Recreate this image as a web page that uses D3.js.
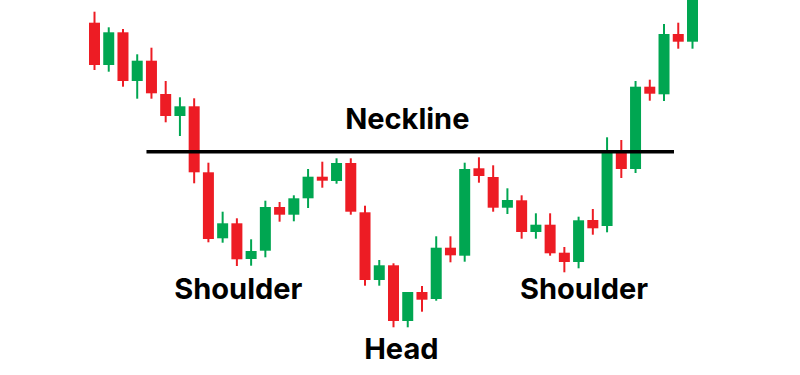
<!DOCTYPE html>
<html>
<head>
<meta charset="utf-8">
<script src="https://cdn.jsdelivr.net/npm/d3@7"></script>
<style>
  html, body { margin: 0; padding: 0; background: #fff; }
  svg { display: block; }
</style>
</head>
<body>
<div id="chart"></div>
<script>
(function() {
  'use strict';

  // candle prices, one entry per session
  var opens  = [352.3, 310, 342.7, 294, 314.3, 281, 259, 268.7, 202.7, 136.7,
                151.7, 116, 124.3, 168, 160.3, 176.7, 198.3, 194, 212, 162.7,
                95, 109.7, 54, 83, 76, 127.3, 119.3, 206.7, 198, 167.3,
                174.7, 143, 150.3, 122.3, 113, 155, 149, 224, 206, 288.3,
                280.7, 341, 333.3];
  var highs  = [363.3, 347.7, 346, 320.7, 327.3, 294, 277.7, 276.7, 212.3, 163.3,
                156.7, 135.7, 174.3, 173, 179.7, 206, 213.3, 216.7, 216.7, 169.3,
                115, 111.7, 83, 89, 138.7, 138.7, 212.3, 217.7, 209.7, 186.7,
                179.7, 161.7, 161.7, 128, 158.3, 166, 237.7, 235, 294, 295.3,
                351, 352.3, 390];
  var lows   = [305, 303.3, 288.3, 276.3, 276.3, 252.7, 239, 191.7, 132.7, 132.3,
                109, 109.3, 117.7, 153.3, 153.7, 167, 187.3, 191.3, 160.3, 89.3,
                89.3, 47.7, 47.7, 63.3, 74.3, 112.7, 113.3, 192.3, 163.3, 161,
                136.3, 136.3, 119.3, 102.7, 106.7, 140.3, 142.7, 197, 202, 274.3,
                274, 326.3, 326.3];
  var closes = [310, 342.7, 294, 314.3, 281.7, 259, 268.7, 202.7, 136, 151.7,
                115.7, 124, 168, 160.3, 176.7, 198.3, 194.3, 212, 163.3, 95,
                109.7, 54, 83, 75.3, 127.3, 119.7, 206, 199, 167.3, 175,
                143, 150.3, 121.7, 113, 154.7, 146.7, 224, 206, 288.3, 281.3,
                341, 333.3, 385];

  var necklineLevel = 223.2;
  var necklineSpan = [3.65, 40.7];

  var labelTexts  = ['Neckline', 'Shoulder', 'Head', 'Shoulder'];
  var labelIndex  = [21.97, 10.1, 21.55, 34.38];
  var labelPrice  = [245.7, 75.7, 16, 75.7];

  var width = 800;
  var height = 375;
  var upColor = '#00a651';
  var downColor = '#ed1c24';
  var bodyWidth = 11;

  var candles = opens.map(function (o, i) {
    return { i: i, open: o, high: highs[i], low: lows[i], close: closes[i] };
  });

  var x = d3.scaleLinear()
    .domain([0, candles.length - 1])
    .range([94.5, 692.5]);

  var y = d3.scaleLinear()
    .domain([0, 375])
    .range([height, 0]);

  var svg = d3.select('#chart')
    .append('svg')
    .attr('width', width)
    .attr('height', height);

  var g = svg.selectAll('g.candle')
    .data(candles)
    .enter()
    .append('g')
    .attr('class', 'candle')
    .attr('fill', function (d) { return d.close >= d.open ? upColor : downColor; })
    .attr('stroke', function (d) { return d.close >= d.open ? upColor : downColor; });

  g.append('line')
    .attr('x1', function (d) { return x(d.i); })
    .attr('x2', function (d) { return x(d.i); })
    .attr('y1', function (d) { return y(d.high); })
    .attr('y2', function (d) { return y(d.low); })
    .attr('stroke-width', 2);

  g.append('rect')
    .attr('x', function (d) { return x(d.i) - bodyWidth / 2; })
    .attr('width', bodyWidth)
    .attr('y', function (d) { return y(Math.max(d.open, d.close)); })
    .attr('height', function (d) {
      return Math.max(1, Math.abs(y(d.open) - y(d.close)));
    })
    .attr('stroke', 'none');

  svg.append('line')
    .attr('x1', x(necklineSpan[0]))
    .attr('x2', x(necklineSpan[1]))
    .attr('y1', y(necklineLevel))
    .attr('y2', y(necklineLevel))
    .attr('stroke', '#000')
    .attr('stroke-width', 3.5);

  svg.selectAll('text.label')
    .data(labelTexts)
    .enter()
    .append('text')
    .attr('class', 'label')
    .attr('x', function (d, i) { return x(labelIndex[i]); })
    .attr('y', function (d, i) { return y(labelPrice[i]); })
    .attr('text-anchor', 'middle')
    .attr('font-family', 'Inter, Roboto, sans-serif')
    .attr('font-weight', 700)
    .attr('font-size', 29)
    .attr('fill', '#000')
    .text(function (d) { return d; });
})();
</script>
</body>
</html>
